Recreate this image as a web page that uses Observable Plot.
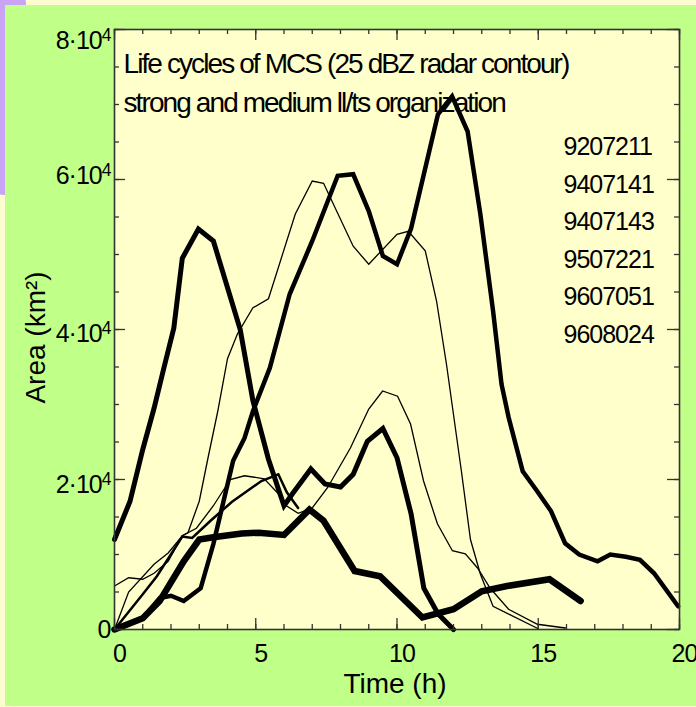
<!DOCTYPE html>
<html><head><meta charset="utf-8">
<script src="https://cdn.jsdelivr.net/npm/d3@7"></script>
<script src="https://cdn.jsdelivr.net/npm/@observablehq/plot@0.6"></script>
<style>
html,body{margin:0;padding:0;background:#fdfdcf;width:696px;height:707px;overflow:hidden;position:relative}
#purple{position:absolute;left:-14px;top:-14px;width:40px;height:209px;background:#c9a3f5;border-radius:18px}
#green{position:absolute;left:5px;top:5px;width:691px;height:701px;background:#c0ff88}
#chart{position:absolute;left:0;top:0}
</style></head><body>
<div id="purple"></div><div id="green"></div><div id="chart"></div>
<script>
// ---- data ----
const labels = ["9207211", "9407141", "9407143", "9507221", "9607051", "9608024"];
const titleLines = ["Life cycles of MCS (25 dBZ radar contour)", "strong and medium ll/ts organization"];
const xTitle = "Time (h)";
const yTitle = "Area (km²)";
const xTicks = [0, 5, 10, 15, 20];
const xTickText = ["0", "5", "10", "15", "20"];
const yTicks = [0, 20000, 40000, 60000, 80000];
const yTickText = ["0", "2·10⁴", "4·10⁴", "6·10⁴", "8·10⁴"];

// [time (h), area (km²)]
const s9207211 = [[0,12000],[0.55,17100],[1.0,24000],[1.4,29500],[1.75,34900],[2.1,40200],[2.4,49500],[2.97,53400],[3.5,51800],[4.45,40000],[4.9,30500],[5.45,22700],[6.0,16500],[6.3,18100],[6.95,21400],[7.45,19400],[8.0,19000],[8.45,20700],[8.95,25100],[9.5,26800],[10.0,22900],[10.5,15400],[10.95,5500],[11.45,2100],[12.0,0]];
const s9407141 = [[0,0],[1.0,1500],[1.6,4200],[2.0,4500],[2.45,3800],[3.05,5500],[3.5,11400],[4.2,22500],[4.6,25500],[4.9,29100],[5.5,34900],[6.2,44700],[7.0,51800],[7.9,60500],[8.45,60700],[9.0,55800],[9.5,49800],[10.0,48700],[10.5,53500],[10.95,60700],[11.45,68700],[11.95,71100],[12.5,66400],[12.95,55400],[13.4,42500],[13.7,32700],[13.95,28300],[14.45,21100],[14.95,18500],[15.45,15800],[15.95,11500],[16.45,10000],[17.1,9100],[17.55,10000],[18.1,9700],[18.6,9300],[19.1,7500],[19.95,3100]];
const s9407143 = [[0,5800],[0.5,6900],[1.0,6700],[1.4,7500],[1.9,9100],[2.4,12500],[2.6,12900],[3.0,17100],[3.3,22700],[3.65,29000],[4.0,36100],[4.35,39400],[4.9,42900],[5.45,44100],[6.4,55400],[7.0,59800],[7.4,59500],[8.45,51100],[9.0,48700],[10.0,52700],[10.4,53100],[11.0,50500],[11.4,43800],[11.75,35400],[12.28,21100],[12.6,12000],[12.95,7400],[13.4,3100],[15.0,100]];
const s9507221 = [[0,0],[0.5,5000],[1.4,8700],[1.9,10200],[2.4,12500],[2.9,13500],[3.5,16500],[4.1,20000],[4.6,20500],[5.3,20100],[5.8,18100],[6.0,16700],[6.5,15500],[7.0,16200],[7.54,18900],[8.35,24200],[9.0,29400],[9.49,31800],[10.02,31100],[10.48,27400],[10.94,19800],[11.43,14100],[11.96,10500],[12.42,10100],[12.85,8200],[13.3,5500],[13.95,2700],[14.97,700],[15.96,200]];
const s9607051 = [[0,0],[1.0,1500],[1.6,3800],[2.45,9100],[3.0,12000],[3.5,12300],[4.5,12800],[5.1,12900],[6.0,12600],[6.9,16000],[7.4,14500],[8.5,7800],[9.4,7100],[10.9,1600],[12.0,2700],[13.0,5100],[13.9,5800],[15.4,6700],[16.5,3800]];
const s9608024 = [[0,0],[1.0,4700],[1.5,7100],[2.4,12400],[2.75,12200],[3.4,14500],[4.15,17000],[5.2,19800],[5.8,20700],[6.1,18300],[6.5,16200]];

const seriesData = [s9207211, s9407141, s9407143, s9507221, s9607051, s9608024];
const strokeWidths = [5, 4.5, 1.3, 1.3, 6.5, 2.5];

// ---- layout ----
const W = 696, H = 707, mL = 114, mR = 17, mT = 29, mB = 78;
const fw = W - mL - mR, fh = H - mT - mB;
const xMinor = d3.range(0, 21, 1);
const yMinor = d3.range(0, 80001, 5000);
const yLabelDy = [0, 5, 4, -4, 11];

const marks = [Plot.frame({fill: "#ffffcc", stroke: null})];
marks.push(Plot.text([titleLines.join("\n")], {frameAnchor: "top-left", dx: 9, dy: 16, lineHeight: 1.393, fontSize: 28, textAnchor: "start", fill: "black"}));
marks.push(Plot.text([labels.join("\n")], {frameAnchor: "top-left", dx: 449, dy: 99, lineHeight: 1.5, fontSize: 25, textAnchor: "start", fill: "black"}));
seriesData.forEach((s, i) => {
  marks.push(Plot.line(s, {x: d => d[0], y: d => d[1], stroke: "black", strokeWidth: strokeWidths[i], strokeLinejoin: "miter", strokeMiterlimit: 4, strokeLinecap: "round"}));
});
const tk = {stroke: "#333", strokeWidth: 1.3};
marks.push(Plot.tickX(xMinor, {x: d => d, insetTop: fh - 5, ...tk}));
marks.push(Plot.tickX(xMinor, {x: d => d, insetBottom: fh - 5, ...tk}));
marks.push(Plot.tickX(xTicks, {x: d => d, insetTop: fh - 11, ...tk}));
marks.push(Plot.tickX(xTicks, {x: d => d, insetBottom: fh - 11, ...tk}));
marks.push(Plot.tickY(yMinor, {y: d => d, insetRight: fw - 5, ...tk}));
marks.push(Plot.tickY(yMinor, {y: d => d, insetLeft: fw - 5, ...tk}));
marks.push(Plot.tickY(yTicks, {y: d => d, insetRight: fw - 11, ...tk}));
marks.push(Plot.tickY(yTicks, {y: d => d, insetLeft: fw - 12, ...tk}));
marks.push(Plot.frame({stroke: "#333", strokeWidth: 1.6}));
marks.push(Plot.axisX({ticks: xTicks, tickFormat: d => xTickText[xTicks.indexOf(d)], tickSize: 0, tickPadding: 15, dx: 5, fontSize: 25, label: null, fill: "black"}));
yTicks.forEach((t, i) => {
  marks.push(Plot.axisY({ticks: [t], tickFormat: () => yTickText[i], tickSize: 0, tickPadding: 4, fontSize: 25, label: null, dy: yLabelDy[i], fill: "black"}));
});
marks.push(Plot.text([xTitle], {frameAnchor: "bottom", dy: 63, dx: -2, fontSize: 28, fill: "black"}));
marks.push(Plot.text([yTitle], {frameAnchor: "left", rotate: -90, dx: -78, dy: 8, textAnchor: "middle", fontSize: 28, fill: "black"}));

const svg = Plot.plot({
  width: W, height: H,
  marginLeft: mL, marginRight: mR, marginTop: mT, marginBottom: mB,
  x: {domain: [0, 20]},
  y: {domain: [0, 80000]},
  style: {background: "transparent", fontFamily: "'Liberation Sans', Arial, Helvetica, sans-serif", color: "black", overflow: "visible"},
  marks
});
svg.setAttribute("letter-spacing", "-1px");
d3.select(svg).selectAll("text").each(function () {
  const s = this.textContent;
  if (s === xTitle || s === yTitle) this.setAttribute("letter-spacing", "0");
  if (s.startsWith("Life") || s.startsWith("strong")) this.setAttribute("letter-spacing", "-1.9px");
  if (s.includes("⁴")) {
    const el = d3.select(this);
    el.text(s.replace("⁴", ""));
    el.append("tspan").attr("dy", "-0.45em").attr("font-size", "0.7em").text("4");
  }
});
document.getElementById("chart").appendChild(svg);
</script>
</body></html>
